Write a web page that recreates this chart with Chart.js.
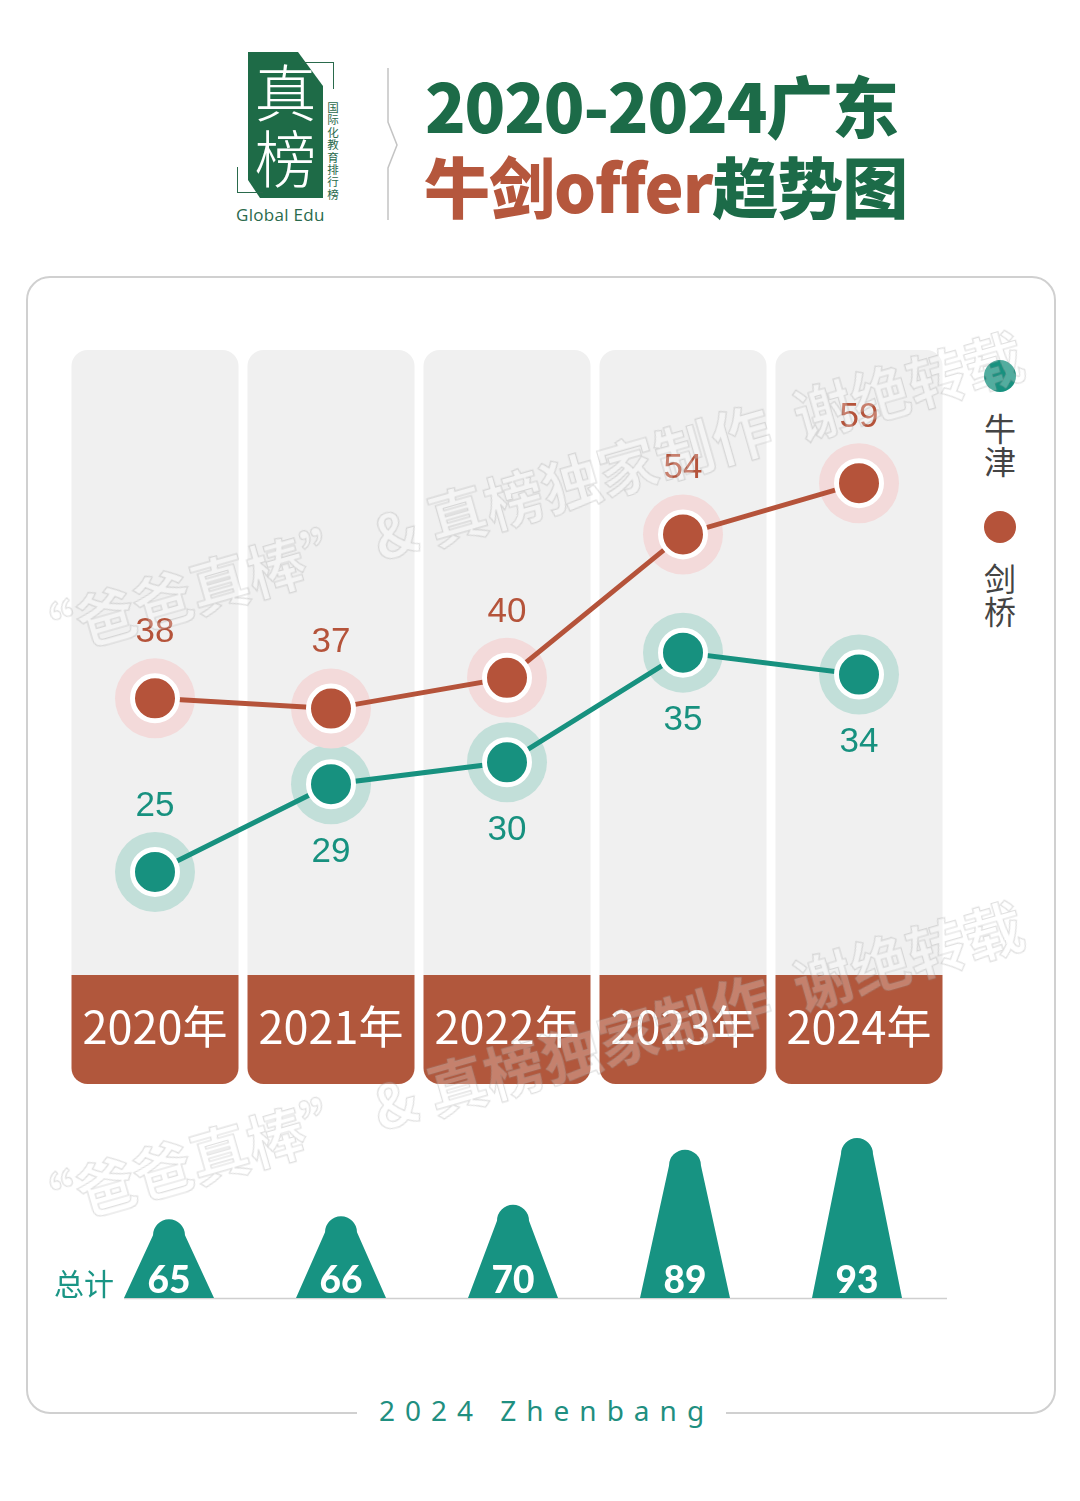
<!DOCTYPE html>
<html><head><meta charset="utf-8">
<script src="https://cdn.jsdelivr.net/npm/chart.js@4.4.1/dist/chart.umd.min.js"></script>
<style>
html,body{margin:0;padding:0}
body{width:1080px;height:1501px;background:#fff;position:relative;overflow:hidden;font-family:"Noto Sans CJK SC","Noto Sans",sans-serif}
.abs{position:absolute}
#card{left:26px;top:276px;width:1030px;height:1138px;box-sizing:border-box;border:2px solid #d0d0d0;border-radius:24px}
.t1{left:425px;top:66px;font-size:67px;font-weight:900;line-height:76px;color:#1c6b48;white-space:nowrap;letter-spacing:-1.2px}
.t2{left:424px;top:146px;font-size:66px;font-weight:900;line-height:76px;color:#1c6b48;white-space:nowrap;letter-spacing:-1px}
.t2 .r{color:#b5573d}
#green{left:248px;top:52px;width:75px;height:146px;background:#1e6b47;clip-path:polygon(0 0,50px 0,75px 34px,75px 146px,12px 146px,0 128px)}
.bigc{left:248px;width:75px;text-align:center;color:#fff;font-size:62px;font-weight:300;line-height:64px}
.vsmall{left:326px;top:101px;width:14px;font-size:11.5px;line-height:12.4px;color:#2a6a4c;text-align:center}
.leg{left:984px;width:32px;text-align:center;font-size:32px;line-height:33px;color:#444}
.dot{left:984px;width:32px;height:32px;border-radius:50%}
.wm{font-size:59px;font-weight:700;white-space:nowrap;color:rgba(255,255,255,0.25);-webkit-text-stroke:1.2px rgba(150,150,150,0.3);transform:rotate(-16deg);transform-origin:center center;pointer-events:none}
</style></head><body>
<div id="card" class="abs"></div>

<!-- header / logo -->
<div id="green" class="abs"></div>
<div class="abs bigc" style="top:58px">真</div>
<div class="abs bigc" style="top:124px">榜</div>
<div class="abs" style="left:302px;top:62px;width:31px;height:26px;border-top:1.5px solid #2a6a4c;border-right:1.5px solid #2a6a4c"></div>
<div class="abs" style="left:237px;top:167px;width:25px;height:25px;border-left:1.5px solid #2a6a4c;border-bottom:1.5px solid #2a6a4c"></div>
<div class="abs vsmall">国际化教育排行榜</div>
<div class="abs" style="left:236px;top:204px;font-size:17px;line-height:22px;color:#2a6a4c;font-family:'Open Sans','Noto Sans',sans-serif;letter-spacing:0.3px">Global Edu</div>
<svg class="abs" style="left:380px;top:66px" width="24" height="156"><polyline points="8,2 8,56 17,79 8,102 8,154" fill="none" stroke="#c4c4c4" stroke-width="1.5"/></svg>
<div class="abs t1">2020-2024广东</div>
<div class="abs t2"><span class="r">牛剑offer</span>趋势图</div>

<!-- legend -->
<div class="abs dot" style="top:360px;background:#17917f"></div>
<div class="abs leg" style="top:411px">牛<br>津</div>
<div class="abs dot" style="top:511px;background:#b5533a"></div>
<div class="abs leg" style="top:561px">剑<br>桥</div>

<canvas id="lineChart" class="abs" style="left:0;top:300px" width="1080" height="800"></canvas>
<canvas id="totalChart" class="abs" style="left:0;top:1100px" width="1080" height="230"></canvas>
<div class="abs" style="left:54px;top:1262px;font-size:30px;line-height:40px;color:#1a9585">总计</div>

<!-- watermark -->
<div class="abs wm" style="left:0px;top:452px">“爸爸真棒” &amp; 真榜独家制作&nbsp;&nbsp;谢绝转载</div>
<div class="abs wm" style="left:0px;top:1022px">“爸爸真棒” &amp; 真榜独家制作&nbsp;&nbsp;谢绝转载</div>

<div class="abs" style="left:357px;top:1390px;width:369px;height:40px;background:#fff;text-align:center;line-height:40px;font-size:28px;letter-spacing:10px;color:#1f8f80;font-family:'Noto Sans','Open Sans',sans-serif;text-indent:10px">2024 Zhenbang</div>

<script>
const years = ['2020年','2021年','2022年','2023年','2024年'];
const oxford = [25, 29, 30, 35, 34];
const cambridge = [38, 37, 40, 54, 59];
const totals = [65, 66, 70, 89, 93];
const seriesNames = ['牛津', '剑桥'];

const TEAL = '#17917f', BROWN = '#b5533a';

function rr(ctx, x, y, w, h, r) {
  ctx.beginPath();
  ctx.roundRect(x, y, w, h, r);
  ctx.fill();
}

const columnPlugin = {
  id: 'columns',
  beforeDatasetsDraw(chart) {
    const {ctx, chartArea: a, scales: {x}} = chart;
    const colW = 167;
    ctx.save();
    years.forEach((yr, i) => {
      const cx = x.getPixelForValue(i);
      const l = cx - colW / 2;
      ctx.fillStyle = '#f0f0f0';
      rr(ctx, l, a.top, colW, a.bottom - a.top, [16, 16, 0, 0]);
      ctx.fillStyle = '#b1573c';
      rr(ctx, l, a.bottom, colW, 109, [0, 0, 16, 16]);
      ctx.fillStyle = '#fff';
      ctx.font = '45px "Noto Sans CJK SC", sans-serif';
      ctx.textAlign = 'center';
      ctx.textBaseline = 'middle';
      ctx.fillText(yr, cx, a.bottom + 52);
    });
    chart.data.datasets.forEach((ds, di) => {
      const meta = chart.getDatasetMeta(di);
      meta.data.forEach(pt => {
        ctx.beginPath();
        ctx.arc(pt.x, pt.y, 40, 0, Math.PI * 2);
        ctx.fillStyle = ds.haloColor;
        ctx.fill();
      });
    });
    ctx.restore();
  },
  afterDatasetsDraw(chart) {
    const {ctx} = chart;
    ctx.save();
    ctx.font = '35px "Liberation Sans", Arial, sans-serif';
    ctx.textAlign = 'center';
    ctx.textBaseline = 'middle';
    chart.data.datasets.forEach((ds, di) => {
      const meta = chart.getDatasetMeta(di);
      meta.data.forEach((pt, i) => {
        const above = ds.labelAbove(i);
        ctx.fillStyle = ds.borderColor;
        ctx.fillText(String(ds.data[i]), pt.x, pt.y + (above ? -66 : 68));
      });
    });
    ctx.restore();
  }
};

new Chart(document.getElementById('lineChart'), {
  type: 'line',
  data: {
    labels: years,
    datasets: [
      {
        label: seriesNames[0], data: oxford, yAxisID: 'y2',
        borderColor: TEAL, borderWidth: 5, pointBackgroundColor: TEAL,
        pointBorderColor: '#fff', pointBorderWidth: 5, pointRadius: 22.5,
        haloColor: '#c2dfd9', labelAbove: i => i === 0, tension: 0
      },
      {
        label: seriesNames[1], data: cambridge, yAxisID: 'y',
        borderColor: BROWN, borderWidth: 5, pointBackgroundColor: BROWN,
        pointBorderColor: '#fff', pointBorderWidth: 5, pointRadius: 22.5,
        haloColor: '#f3dada', labelAbove: i => true, tension: 0
      }
    ]
  },
  options: {
    responsive: false, animation: false, events: [],
    layout: {padding: {left: 67, right: 133, top: 50, bottom: 125}},
    plugins: {legend: {display: false}, tooltip: {enabled: false}},
    scales: {
      x: {display: false, offset: true},
      y: {display: false, min: 11, max: 72},
      y2: {display: false, min: 20.3, max: 48.8, position: 'right'}
    }
  },
  plugins: [columnPlugin]
});

const peakPlugin = {
  id: 'peaks',
  afterDatasetsDraw(chart) {
    const {ctx, chartArea: a} = chart;
    const meta = chart.getDatasetMeta(0);
    const base = a.bottom;
    ctx.save();
    const first = meta.data[0];
    ctx.strokeStyle = '#cfcfcf';
    ctx.lineWidth = 1.5;
    ctx.beginPath();
    ctx.moveTo(first.x - 45, base + 0.5);
    ctx.lineTo(a.right + 4, base + 0.5);
    ctx.stroke();
    meta.data.forEach((bar, i) => {
      const r = 16, half = 45;
      ctx.fillStyle = '#179382';
      ctx.beginPath();
      ctx.moveTo(bar.x - half, base);
      ctx.lineTo(bar.x - r, bar.y + r);
      ctx.arc(bar.x, bar.y + r, r, Math.PI, Math.PI * 2);
      ctx.lineTo(bar.x + half, base);
      ctx.closePath();
      ctx.fill();
      ctx.fillStyle = '#fff';
      ctx.font = '900 37px Lato, "DejaVu Sans", sans-serif';
      ctx.textAlign = 'center';
      ctx.textBaseline = 'alphabetic';
      ctx.fillText(String(totals[i]), bar.x, base - 5);
    });
    ctx.restore();
  }
};

new Chart(document.getElementById('totalChart'), {
  type: 'bar',
  data: {
    labels: years,
    datasets: [{label: '总计', data: totals, backgroundColor: 'rgba(0,0,0,0)', barThickness: 90}]
  },
  options: {
    responsive: false, animation: false, events: [],
    layout: {padding: {left: 83, right: 137, top: 10, bottom: 32}},
    plugins: {legend: {display: false}, tooltip: {enabled: false}},
    scales: {
      x: {display: false},
      y: {display: false, min: 37.8, max: 102.7}
    }
  },
  plugins: [peakPlugin]
});
</script>
</body></html>
